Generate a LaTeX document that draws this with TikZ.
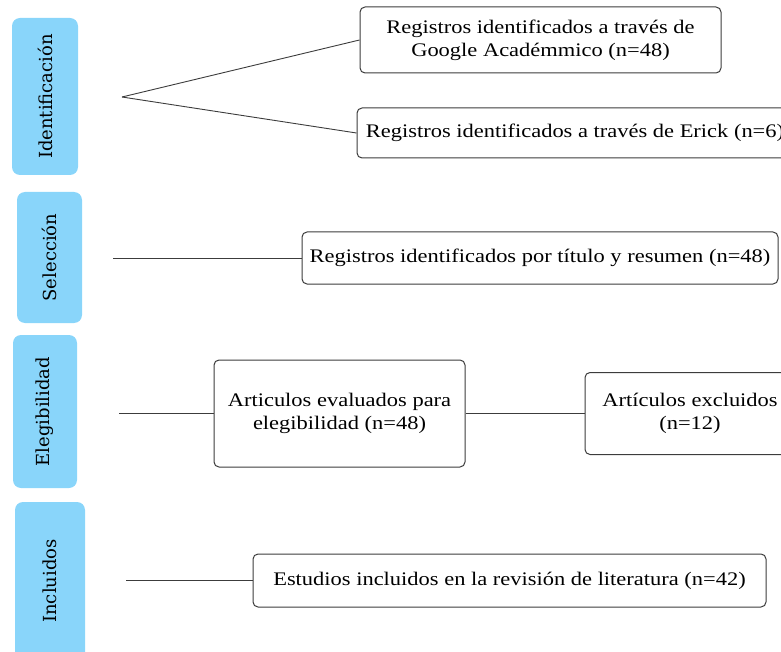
\documentclass[tikz,border=0pt]{standalone}
\usepackage{fontspec}
\setmainfont{Liberation Serif}[FakeStretch=1.17]
\newfontfamily\fasefont{DejaVu Serif}
\usepackage{tikz}
\usetikzlibrary{positioning}
\definecolor{faseazul}{RGB}{137,213,250}
\definecolor{bordegris}{RGB}{60,60,60}
\tikzset{
    %Define style for phase labels
    fase/.style={
           rectangle,
           rounded corners=8pt,
           fill=faseazul,
           draw=none,
           rotate=90,
           inner sep=0pt,
           font=\fasefont\fontsize{18}{21}\selectfont,
           text centered},
    %Define style for boxes
    caja/.style={
           rectangle,
           rounded corners=5pt,
           draw=bordegris, line width=1pt,
           fill=white,
           inner sep=0pt,
           align=center,
           font=\fontsize{19.2}{23}\selectfont},
    % Define line style
    linea/.style={
           draw=bordegris,
           line width=0.9pt}
}
\begin{document}
\begin{tikzpicture}[x=1pt,y=-1pt]
\useasboundingbox (0,0) rectangle (781,652);

 %phases
\node[fase, minimum width=157, minimum height=66] (ident) at (45,96.5) {Identificación};
\node[fase, minimum width=131, minimum height=65] (selec) at (49.5,257.5) {Selección};
\node[fase, minimum width=153, minimum height=64] (elegi) at (45,411.5) {Elegibilidad};
\node[fase, minimum width=158, minimum height=70] (inclu) at (50,581) {Incluidos};

 %boxes
\node[caja, minimum width=361, minimum height=66] (google) at (540.5,40) {Registros identificados a través de\\Google Académmico (n=48)};
\node[caja, minimum width=436, minimum height=50] (erick) at (575,133) {Registros identificados a través de Erick (n=6)};
\node[caja, minimum width=476, minimum height=52] (titulo) at (540,258) {Registros identificados por título y resumen (n=48)};
\node[caja, minimum width=251, minimum height=107] (evaluados) at (339.5,413.5) {Articulos evaluados para\\elegibilidad (n=48)};
\node[caja, minimum width=210, minimum height=82] (excluidos) at (690,413.5) {Artículos excluidos\\(n=12)};
\node[caja, minimum width=513, minimum height=53] (incluidos) at (509.5,580.5) {Estudios incluidos en la revisión de literatura (n=42)};

 %line starts
\coordinate (identini) at (122,97);
\coordinate (selecini) at (113,258);
\coordinate (elegiini) at (119,413.5);
\coordinate (incluini) at (126,580.5);

 \path[linea]
    (identini) edge (google.west)
               edge (erick.west)
    (selecini) edge (titulo.west)
    (elegiini) edge (evaluados.west)
    (evaluados) edge (excluidos)
    (incluini) edge (incluidos.west);

\end{tikzpicture}
\end{document}
